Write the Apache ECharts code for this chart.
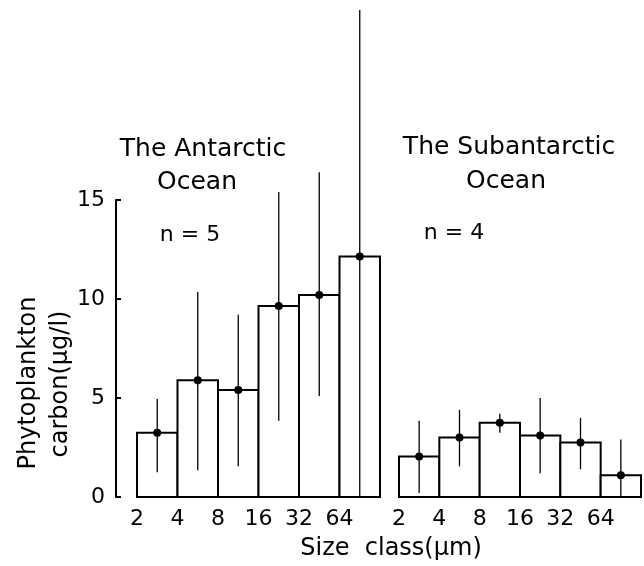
<!DOCTYPE html>
<html><head><meta charset="utf-8">
<script src="https://cdn.jsdelivr.net/npm/echarts@6/dist/echarts.min.js"></script>
<style>html,body{margin:0;padding:0;background:#fff}#c{width:644px;height:566px}</style>
</head><body><div id="c"></div>
<script>
// Size class boundaries (µm)
const sizeClasses = ['2', '4', '8', '16', '32', '64'];
// The Antarctic Ocean (n = 5): mean, lower and upper ends of the error bars
const antMean = [3.25, 5.9, 5.4, 9.65, 10.2, 12.15];
const antLow  = [1.25, 1.35, 1.55, 3.85, 5.1, 0];
const antHigh = [4.95, 10.35, 9.2, 15.4, 16.4, 24.6];
// The Subantarctic Ocean (n = 4)
const subMean = [2.05, 3.0, 3.75, 3.1, 2.75, 1.1];
const subLow  = [0.2, 1.55, 3.25, 1.2, 1.4, 0];
const subHigh = [3.85, 4.4, 4.2, 5.0, 4.0, 2.9];
// y axis
const yMin = 0, yMax = 15, yStep = 5;

const FONT = 'DejaVu Sans';
const chart = echarts.init(document.getElementById('c'), null, {renderer: 'canvas'});

function barSeries(idx, mean) {
  return {
    type: 'custom', xAxisIndex: idx, yAxisIndex: idx, clip: false,
    data: mean.map((v, i) => [i, v]),
    renderItem: (params, api) => {
      const i = api.value(0), v = api.value(1);
      const p0 = api.coord([i, 0]);
      const p1 = api.coord([i + 1, v]);
      return {
        type: 'rect',
        shape: {x: p0[0], y: p1[1], width: p1[0] - p0[0], height: p0[1] - p1[1]},
        style: {fill: '#fff', stroke: '#000', lineWidth: 2}
      };
    },
    z: 2
  };
}
function errSeries(idx, mean, low, high) {
  return {
    type: 'custom', xAxisIndex: idx, yAxisIndex: idx, clip: false,
    data: mean.map((v, i) => [i, v, low[i], high[i]]),
    renderItem: (params, api) => {
      const i = api.value(0);
      const pm = api.coord([i + 0.5, api.value(1)]);
      const pl = api.coord([i + 0.5, api.value(2)]);
      const ph = api.coord([i + 0.5, api.value(3)]);
      return {
        type: 'group',
        children: [
          {type: 'line', shape: {x1: pl[0], y1: pl[1], x2: ph[0], y2: ph[1]},
           style: {stroke: '#000', lineWidth: 1.3}},
          {type: 'circle', shape: {cx: pm[0], cy: pm[1], r: 4},
           style: {fill: '#000'}}
        ]
      };
    },
    z: 3
  };
}

const xAxisBase = {
  type: 'value', min: 0, max: sizeClasses.length, interval: 1,
  axisLine: {show: false}, axisTick: {show: false}, splitLine: {show: false},
  axisLabel: {
    fontFamily: FONT, fontSize: 22, color: '#000', margin: 11,
    formatter: v => sizeClasses[v] !== undefined ? sizeClasses[v] : ''
  }
};

const option = {
  animation: false,
  backgroundColor: '#fff',
  grid: [
    {left: 137, width: 243, top: 200, height: 297},
    {left: 399, width: 244, top: 200, height: 297},
    {left: 116, width: 10, top: 200, height: 297}
  ],
  xAxis: [
    Object.assign({gridIndex: 0}, xAxisBase),
    Object.assign({gridIndex: 1}, xAxisBase),
    {gridIndex: 2, type: 'value', min: 0, max: 1, show: false}
  ],
  yAxis: [
    {gridIndex: 0, type: 'value', min: yMin, max: yMax, interval: yStep, show: false},
    {gridIndex: 1, type: 'value', min: yMin, max: yMax, interval: yStep, show: false},
    {gridIndex: 2, type: 'value', min: yMin, max: yMax, interval: yStep,
     axisLine: {show: true, lineStyle: {color: '#000', width: 2}},
     axisTick: {show: true, inside: true, length: 5, lineStyle: {color: '#000', width: 2}},
     splitLine: {show: false},
     axisLabel: {fontFamily: FONT, fontSize: 22, color: '#000', margin: 11}}
  ],
  series: [
    barSeries(0, antMean), errSeries(0, antMean, antLow, antHigh),
    barSeries(1, subMean), errSeries(1, subMean, subLow, subHigh)
  ],
  graphic: [
    {type: 'text', x: 203, y: 149, style: {text: 'The Antarctic', font: '25px "DejaVu Sans"', fill: '#000', textAlign: 'center', textVerticalAlign: 'middle'}},
    {type: 'text', x: 197, y: 182, style: {text: 'Ocean', font: '25px "DejaVu Sans"', fill: '#000', textAlign: 'center', textVerticalAlign: 'middle'}},
    {type: 'text', x: 190, y: 235, style: {text: 'n = 5', font: '22px "DejaVu Sans"', fill: '#000', textAlign: 'center', textVerticalAlign: 'middle'}},
    {type: 'text', x: 509, y: 147, style: {text: 'The Subantarctic', font: '25px "DejaVu Sans"', fill: '#000', textAlign: 'center', textVerticalAlign: 'middle'}},
    {type: 'text', x: 506, y: 181, style: {text: 'Ocean', font: '25px "DejaVu Sans"', fill: '#000', textAlign: 'center', textVerticalAlign: 'middle'}},
    {type: 'text', x: 454, y: 233, style: {text: 'n = 4', font: '22px "DejaVu Sans"', fill: '#000', textAlign: 'center', textVerticalAlign: 'middle'}},
    {type: 'text', x: 29, y: 383, rotation: Math.PI / 2, style: {text: 'Phytoplankton', font: '24px "DejaVu Sans"', fill: '#000', textAlign: 'center', textVerticalAlign: 'middle'}},
    {type: 'text', x: 61, y: 384, rotation: Math.PI / 2, style: {text: 'carbon(μg/l)', font: '24px "DejaVu Sans"', fill: '#000', textAlign: 'center', textVerticalAlign: 'middle'}},
    {type: 'text', x: 391, y: 549, style: {text: 'Size  class(μm)', font: '24px "DejaVu Sans"', fill: '#000', textAlign: 'center', textVerticalAlign: 'middle'}}
  ]
};
chart.setOption(option);
</script>
</body></html>
